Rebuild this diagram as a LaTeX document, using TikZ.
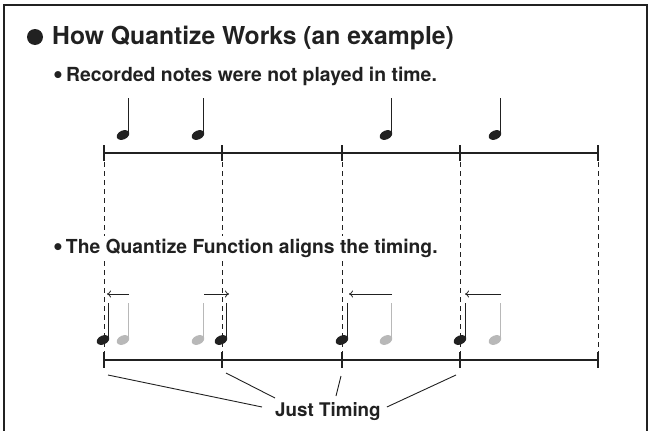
\documentclass[tikz,border=0pt]{standalone}
\usepackage{fontspec}
\setmainfont{TeX Gyre Heros}
\usetikzlibrary{arrows.meta}
\definecolor{ink}{gray}{0.13}
\definecolor{ghost}{gray}{0.72}
\tikzset{
        txt/.style={inner sep=0pt, anchor=base west, text=ink},
        ruler/.style={ink, line width=1.2pt},
        guide/.style={ink, line width=1pt, dash pattern=on 5pt off 4pt},
        shiftarrow/.style={ink, line width=0.8pt, -{To[length=4pt,width=7pt]}},
        leader/.style={ink, line width=0.9pt}
}
\newcommand{\qnote}[3]{
        \fill[#3, rotate around={25:(#1,#2)}] (#1,#2) ellipse [x radius=6.6pt, y radius=4.4pt];
        \draw[#3, line width=1.3pt] (#1+5.7,#2-1) -- (#1+5.7,#2-37);
}
\newcommand{\bul}{\raisebox{-2.8pt}{\scalebox{1.45}{•}}\hspace{3pt}}
\begin{document}
\begin{tikzpicture}[x=1pt, y=-1pt]
        \useasboundingbox (0,0) rectangle (651,431);
        \draw[ink, line width=2.5pt] (4,440) -- (4,5) -- (647,5) -- (647,440);

        \node[circle, fill=ink, minimum size=16pt, inner sep=0pt] (dot) at (35,37) {};
        \node[txt, font=\bfseries\fontsize{24.7}{28}\selectfont] (title) at (52,45) {How Quantize Works (an example)};
        \node[txt, font=\bfseries\fontsize{19.4}{22}\selectfont] (played) at (53,81) {\bul Recorded notes were not played in time.};

        \foreach \i/\x in {1/104, 2/222, 3/342, 4/460, 5/598}{
            \coordinate (top-\i) at (\x,153);
            \coordinate (bot-\i) at (\x,360);
            \draw[ruler] ([yshift=8pt]top-\i) -- ([yshift=-8pt]top-\i);
            \draw[ruler] ([yshift=8pt]bot-\i) -- ([yshift=-8pt]bot-\i);
            \draw[guide] ([yshift=-9pt]top-\i) -- ([yshift=8pt]bot-\i);
        }
        \draw[ruler] (top-1) -- (top-5);
        \draw[ruler] (bot-1) -- (bot-5);

        \node[txt, fill=white, inner ysep=3pt, font=\bfseries\fontsize{19.3}{22}\selectfont] (aligns) at (53,253) {\bul The Quantize Function aligns the timing.};

        \foreach \i/\g/\k/\e in {1/123/103/107, 2/198/221/229, 3/386/342/349, 4/495/460/465}{
            \qnote{\g}{135}{ink}
            \qnote{\g}{340}{ghost}
            \qnote{\k}{340}{ink}
            \coordinate (from-\i) at (\g+6,294);
            \coordinate (to-\i) at (\e,294);
            \draw[shiftarrow] (from-\i) -- (to-\i);
        }

        \node[txt, font=\bfseries\fontsize{18.8}{22}\selectfont] (just) at (275,416) {Just Timing};
        \draw[leader] ([shift={(4,15)}]bot-1) -- ([shift={(-13,-9)}]just.base west);
        \draw[leader] ([shift={(4,13)}]bot-2) -- ([shift={(0,-18)}]just.base west);
        \draw[leader] ([shift={(-1,16)}]bot-3) -- ([shift={(61,-20)}]just.base west);
        \draw[leader] ([shift={(-4,15)}]bot-4) -- ([shift={(6,-9)}]just.base east);
    \end{tikzpicture}
\end{document}
